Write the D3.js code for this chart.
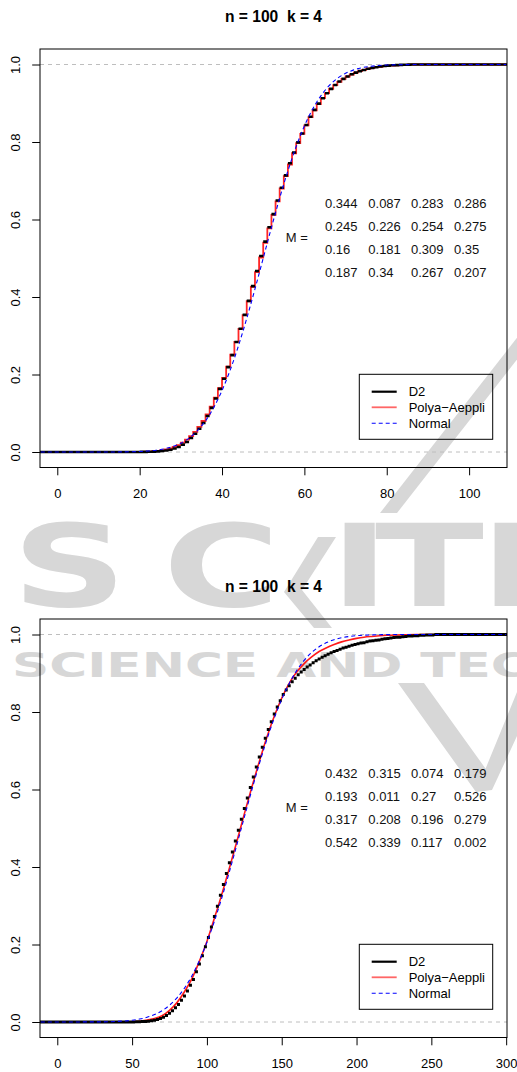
<!DOCTYPE html>
<html><head><meta charset="utf-8">
<script src="https://cdn.jsdelivr.net/npm/d3@7"></script>
<style>body{margin:0;background:#fff}svg{display:block}</style>
</head><body>
<svg id="chart" width="517" height="1072"></svg>
<script>
// ---------------- data ----------------
const titleText = "n = 100  k = 4";
const legendLabels = ["D2", "Polya\u2212Aeppli", "Normal"];
const yTicks = [0, 0.2, 0.4, 0.6, 0.8, 1.0];
const yTickLabels = ["0.0", "0.2", "0.4", "0.6", "0.8", "1.0"];
const xTicks1 = [0, 20, 40, 60, 80, 100];
const xTicks2 = [0, 50, 100, 150, 200, 250, 300];
const xRange1 = [0, 105];
const xRange2 = [0, 289];

// panel 1 : D2 step values at x = 20, 21, ... (1 afterwards)
const d2Start1 = 20, d2Step1 = 1;
const d2Values1 = [0.0002,0.0003,0.0005,0.001,0.0015,0.0025,0.004,0.006,0.009,0.013,
  0.019,0.026,0.036,0.047,0.060,0.075,0.093,0.114,0.138,0.163,
  0.189,0.219,0.250,0.284,0.318,0.354,0.390,0.428,0.467,0.506,
  0.543,0.580,0.614,0.649,0.682,0.714,0.745,0.773,0.799,0.822,
  0.844,0.865,0.883,0.899,0.913,0.926,0.937,0.947,0.956,0.963,
  0.969,0.975,0.979,0.983,0.986,0.989,0.991,0.993,0.995,0.996,
  0.997,0.998,0.9985,0.999,0.9994,0.9997];
// panel 1 : Polya-Aeppli step values at x = 20, 21, ...
const paStart1 = 20;
const paValues1 = [0.0005,0.0008,0.0012,0.002,0.003,0.0045,0.0065,0.009,0.013,0.018,
  0.024,0.032,0.041,0.052,0.065,0.080,0.097,0.117,0.140,0.165,
  0.191,0.220,0.251,0.284,0.318,0.353,0.389,0.426,0.464,0.502,
  0.540,0.577,0.612,0.647,0.680,0.712,0.742,0.771,0.797,0.821,
  0.843,0.864,0.882,0.898,0.913,0.926,0.937,0.947,0.955,0.963,
  0.969,0.974,0.979,0.983,0.986,0.989,0.991,0.993,0.994,0.996,
  0.997,0.997,0.998,0.999,0.999,0.9995];
// panel 1 : Normal curve
const normalX1 = [-4,10,15,20,22,24,26,28,30,32,34,36,38,40,42,44,46,48,50,52,54,56,58,60,62,64,66,68,70,72,74,76,78,80,85,90,109];
const normalY1 = [0,0.00003,0.0002,0.0013,0.0026,0.0047,0.0082,0.0139,0.0228,0.0359,0.0548,0.0808,0.1151,0.1587,0.2119,0.2743,0.3446,0.4207,0.5,0.5793,0.6554,0.7257,0.7881,0.8413,0.8849,0.9192,0.9452,0.9641,0.9772,0.9861,0.9918,0.9953,0.9974,0.9987,0.9998,1,1];
const matrix1 = [
  ["0.344","0.087","0.283","0.286"],
  ["0.245","0.226","0.254","0.275"],
  ["0.16","0.181","0.309","0.35"],
  ["0.187","0.34","0.267","0.207"]];

// panel 2 : D2 step values at x = 46, 48, 50, ... (1 afterwards)
const d2Start2 = 46, d2Step2 = 2;
const d2Values2 = [0.0000,0.0001,0.0002,0.0004,0.0006,0.0010,0.0015,0.0020,0.0031,0.0043,
  0.0063,0.0091,0.0120,0.0170,0.0223,0.029,0.037,0.045,0.056,0.067,
  0.080,0.095,0.110,0.130,0.150,0.171,0.194,0.218,0.245,0.272,
  0.299,0.327,0.355,0.383,0.411,0.439,0.467,0.495,0.523,0.551,
  0.578,0.605,0.632,0.658,0.684,0.709,0.732,0.755,0.775,0.795,
  0.813,0.829,0.845,0.857,0.868,0.878,0.887,0.896,0.903,0.910,
  0.916,0.921,0.927,0.932,0.937,0.941,0.945,0.949,0.953,0.956,
  0.959,0.962,0.965,0.967,0.970,0.972,0.974,0.976,0.978,0.979,
  0.981,0.983,0.984,0.985,0.986,0.988,0.989,0.990,0.991,0.992,
  0.993,0.993,0.994,0.995,0.996,0.996,0.997,0.997,0.998,0.998,
  0.999,0.999,0.999];
// panel 2 : Polya-Aeppli curve
const paX2 = [-11,35,40,45,50,55,60,65,70,75,80,85,90,95,100,105,110,115,120,125,130,135,140,145,150,155,160,165,170,175,180,185,190,195,200,205,210,220,230,240,300];
const paY2 = [0,0,0.0001,0.0003,0.0008,0.002,0.005,0.009,0.016,0.030,0.050,0.078,0.112,0.157,0.208,0.268,0.330,0.397,0.466,0.537,0.606,0.672,0.734,0.789,0.836,0.874,0.903,0.925,0.942,0.956,0.966,0.974,0.981,0.986,0.990,0.993,0.995,0.998,0.999,1,1];
// panel 2 : Normal curve
const normalX2 = [-11,30,40,45,50,55,60,65,70,75,80,85,90,95,100,105,110,115,120,125,130,135,140,145,150,155,160,165,170,175,180,185,190,195,200,205,210,220,230,240,300];
const normalY2 = [0,0.0004,0.0015,0.0027,0.0046,0.0076,0.0122,0.0192,0.0292,0.0433,0.0623,0.0874,0.1193,0.1587,0.2058,0.2601,0.3212,0.3875,0.4574,0.5285,0.5987,0.6659,0.7281,0.7840,0.8326,0.8735,0.9068,0.9332,0.9534,0.9683,0.9791,0.9866,0.9916,0.9949,0.9970,0.9983,0.9991,0.9997,0.9999,1,1];
const matrix2 = [
  ["0.432","0.315","0.074","0.179"],
  ["0.193","0.011","0.27","0.526"],
  ["0.317","0.208","0.196","0.279"],
  ["0.542","0.339","0.117","0.002"]];

// ---------------- drawing ----------------
const FONT = "'Liberation Sans', Arial, Helvetica, sans-serif";
const svg = d3.select("#chart");

// background watermark (decoration)
const wm = svg.append("g").attr("fill", "#d7d7d7");
wm.append("text").attr("transform", "translate(0,606) scale(1.4,1)")
  .attr("x", "8.6 116.4 235.7 267.9 342.9").attr("y", 0)
  .attr("font-family", "'DejaVu Sans', sans-serif").attr("font-weight", "bold")
  .attr("font-size", 114)
  .text("SCITE");
wm.append("text").attr("x", 12).attr("y", 677)
  .attr("font-family", "'DejaVu Sans', sans-serif").attr("font-weight", "bold")
  .attr("font-size", 33).attr("textLength", 560).attr("lengthAdjust", "spacingAndGlyphs")
  .text("SCIENCE AND TECH");
wm.append("path").attr("d", "M380,513 L397,513 L540,330 L523,330 Z");
wm.append("path").attr("d", "M318,537 L336,537 L302,590 L332,628 L314,628 L284,592 Z");
wm.append("path").attr("d", "M398,683 L424,683 L488,772 L476,792 Z M517,692 L517,736 L492,790 L476,792 Z");

const panels = [
  {top: 49, bottom: 467.5, xRange: xRange1, xTicks: xTicks1, d2Start: d2Start1, d2Step: d2Step1, d2: d2Values1, d2W: 2.6,
   pa: {type: "step", start: paStart1, values: paValues1}, nx: normalX1, ny: normalY1, matrix: matrix1},
  {top: 619, bottom: 1037.5, xRange: xRange2, xTicks: xTicks2, d2Start: d2Start2, d2Step: d2Step2, d2: d2Values2, d2W: 3,
   pa: {type: "curve", xs: paX2, ys: paY2}, nx: normalX2, ny: normalY2, matrix: matrix2}
];
const LEFT = 40, RIGHT = 507;

panels.forEach((p, pi) => {
  const span = p.xRange[1] - p.xRange[0];
  const x = d3.scaleLinear().domain([p.xRange[0] - 0.04 * span, p.xRange[1] + 0.04 * span]).range([LEFT, RIGHT]);
  const y = d3.scaleLinear().domain([-0.04, 1.04]).range([p.bottom, p.top]);
  const [dx0, dx1] = x.domain();
  const g = svg.append("g");

  const clipId = "clip" + pi;
  g.append("clipPath").attr("id", clipId).append("rect")
    .attr("x", LEFT).attr("y", p.top).attr("width", RIGHT - LEFT).attr("height", p.bottom - p.top);
  const plot = g.append("g").attr("clip-path", `url(#${clipId})`);

  // reference lines at 0 and 1
  plot.selectAll("line.ref").data([0, 1]).enter().append("line")
    .attr("x1", LEFT).attr("x2", RIGHT).attr("y1", d => y(d)).attr("y2", d => y(d))
    .attr("stroke", "#bebebe").attr("stroke-width", 1).attr("stroke-dasharray", "4,4");

  // Polya-Aeppli (red)
  let paPts;
  if (p.pa.type === "step") {
    paPts = [[dx0, 0]].concat(p.pa.values.map((v, i) => [p.pa.start + i, v]))
      .concat([[p.pa.start + p.pa.values.length, 1], [dx1, 1]]);
    plot.append("path").attr("d", d3.line().x(d => x(d[0])).y(d => y(d[1])).curve(d3.curveStepAfter)(paPts))
      .attr("fill", "none").attr("stroke", "#ff0000").attr("stroke-opacity", 0.85).attr("stroke-width", 1.8);
  } else {
    paPts = p.pa.xs.map((v, i) => [v, p.pa.ys[i]]);
    plot.append("path").attr("d", d3.line().x(d => x(d[0])).y(d => y(d[1])).curve(d3.curveMonotoneX)(paPts))
      .attr("fill", "none").attr("stroke", "#ff0000").attr("stroke-opacity", 0.9).attr("stroke-width", 1.6);
  }

  // D2 (black, horizontal segments only)
  const n = p.d2.length;
  const segs = [{a: dx0, b: p.d2Start, v: 0}]
    .concat(p.d2.map((v, i) => ({a: p.d2Start + i * p.d2Step, b: p.d2Start + (i + 1) * p.d2Step, v})))
    .concat([{a: p.d2Start + n * p.d2Step, b: dx1, v: 1}]);
  plot.append("path")
    .attr("d", segs.map(s => `M${x(s.a)},${y(s.v)}H${x(s.b)}`).join(""))
    .attr("fill", "none").attr("stroke", "#000").attr("stroke-width", p.d2W).attr("stroke-linecap", "butt");

  // Normal (blue dashed)
  const nPts = p.nx.map((v, i) => [v, p.ny[i]]);
  plot.append("path").attr("d", d3.line().x(d => x(d[0])).y(d => y(d[1])).curve(d3.curveMonotoneX)(nPts))
    .attr("fill", "none").attr("stroke", "#0000ff").attr("stroke-width", 1.1).attr("stroke-dasharray", "4,3");

  // box
  g.append("rect").attr("x", LEFT).attr("y", p.top).attr("width", RIGHT - LEFT).attr("height", p.bottom - p.top)
    .attr("fill", "none").attr("stroke", "#000").attr("stroke-width", 1);

  // x axis
  const xa = g.append("g").attr("transform", `translate(0,${p.bottom})`)
    .call(d3.axisBottom(x).tickValues(p.xTicks).tickSize(7.8).tickPadding(0).tickFormat(d3.format("d")));
  xa.select(".domain").remove();
  xa.selectAll(".tick line").attr("stroke", "#000");
  xa.selectAll(".tick text").attr("y", 30).attr("dy", null).attr("font-family", FONT).attr("font-size", 13).attr("fill", "#000");

  // y axis
  const ya = g.append("g").attr("transform", `translate(${LEFT},0)`)
    .call(d3.axisLeft(y).tickValues(yTicks).tickSize(7.8).tickFormat((d, i) => yTickLabels[i]));
  ya.select(".domain").remove();
  ya.selectAll(".tick line").attr("stroke", "#000");
  ya.selectAll(".tick text").attr("x", null).attr("dy", null)
    .attr("transform", `translate(${20.4 - LEFT},0) rotate(-90)`)
    .attr("text-anchor", "middle").attr("font-family", FONT).attr("font-size", 13).attr("fill", "#000");

  // title
  g.append("text").attr("x", (LEFT + RIGHT) / 2).attr("y", p.top - 26.7)
    .attr("text-anchor", "middle").attr("font-family", FONT).attr("font-weight", "bold").attr("font-size", 15.6)
    .attr("xml:space", "preserve").style("white-space", "pre")
    .text(titleText);

  // matrix
  const colX = [285, 328.3, 371, 414];
  const rowY = [154, 177, 200, 223];
  const mg = g.append("g").attr("font-family", FONT).attr("font-size", 13).attr("fill", "#111");
  mg.append("text").attr("x", LEFT + 245.7).attr("y", p.top + 188.5 + 4.7).text("M =");
  p.matrix.forEach((row, r) => row.forEach((val, c) => {
    mg.append("text").attr("x", LEFT + colX[c]).attr("y", p.top + rowY[r] + 4.7).text(val);
  }));

  // legend
  const lw = 133.4, lh = 65;
  const lx = RIGHT - 14.3 - lw, ly = p.bottom - 28.2 - lh;
  const lg = g.append("g").attr("transform", `translate(${lx},${ly})`);
  lg.append("rect").attr("width", lw).attr("height", lh).attr("fill", "none").attr("stroke", "#000").attr("stroke-width", 1);
  const styles = [
    {stroke: "#000", w: 2.2, dash: null, op: 1},
    {stroke: "#ff0000", w: 1.8, dash: null, op: 0.6},
    {stroke: "#0000ff", w: 1.1, dash: "4,3", op: 1}];
  const rows = [17.4, 33, 49];
  legendLabels.forEach((lab, i) => {
    lg.append("line").attr("x1", 12.4).attr("x2", 37.4).attr("y1", rows[i]).attr("y2", rows[i])
      .attr("stroke", styles[i].stroke).attr("stroke-width", styles[i].w).attr("stroke-opacity", styles[i].op)
      .attr("stroke-dasharray", styles[i].dash);
    lg.append("text").attr("x", 49.4).attr("y", rows[i] + 4.7)
      .attr("font-family", FONT).attr("font-size", 13).attr("fill", "#000").text(lab);
  });
});
</script>
</body></html>
